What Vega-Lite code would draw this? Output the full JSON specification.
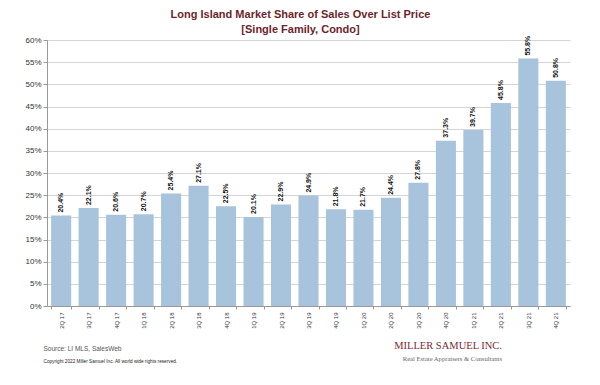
{
  "$schema": "https://vega.github.io/schema/vega-lite/v6.json",
  "background": "white",
  "padding": {"left": 24, "top": 8, "right": 5, "bottom": 5},
  "title": {
    "text": "MILLER SAMUEL INC.",
    "subtitle": "Real Estate Appraisers & Consultants",
    "orient": "bottom",
    "anchor": "end",
    "frame": "group",
    "font": "Liberation Serif",
    "fontSize": 10.5,
    "fontWeight": "normal",
    "color": "#7b2a33",
    "subtitleFont": "Liberation Serif",
    "subtitleFontSize": 6.6,
    "subtitleColor": "#666666",
    "subtitlePadding": 5,
    "dx": -68,
    "offset": -22
  },
  "vconcat": [
    {
      "width": 523,
      "height": 266,
      "title": {
        "text": ["Long Island Market Share of Sales Over List Price", "[Single Family, Condo]"],
        "anchor": "middle",
        "frame": "group",
        "dx": -8,
        "font": "Liberation Sans",
        "fontSize": 11,
        "fontWeight": "bold",
        "color": "#6d1f2b",
        "lineHeight": 15,
        "offset": 1
      },
      "data": {
        "values": [
          {"quarter": "2Q 17", "share": 0.204},
          {"quarter": "3Q 17", "share": 0.221},
          {"quarter": "4Q 17", "share": 0.206},
          {"quarter": "1Q 18", "share": 0.207},
          {"quarter": "2Q 18", "share": 0.254},
          {"quarter": "3Q 18", "share": 0.271},
          {"quarter": "4Q 18", "share": 0.225},
          {"quarter": "1Q 19", "share": 0.201},
          {"quarter": "2Q 19", "share": 0.229},
          {"quarter": "3Q 19", "share": 0.249},
          {"quarter": "4Q 19", "share": 0.218},
          {"quarter": "1Q 20", "share": 0.217},
          {"quarter": "2Q 20", "share": 0.244},
          {"quarter": "3Q 20", "share": 0.278},
          {"quarter": "4Q 20", "share": 0.373},
          {"quarter": "1Q 21", "share": 0.397},
          {"quarter": "2Q 21", "share": 0.458},
          {"quarter": "3Q 21", "share": 0.558},
          {"quarter": "4Q 21", "share": 0.508}
        ]
      },
      "resolve": {"axis": {"y": "independent"}},
      "layer": [
        {
          "mark": {"type": "bar", "color": "#a7c4dc"},
          "encoding": {
            "x": {
              "field": "quarter",
              "type": "nominal",
              "sort": null,
              "scale": {"paddingInner": 0.27, "paddingOuter": 0.15},
              "axis": {
                "title": "Source:  LI MLS, SalesWeb",
                "titleFont": "Liberation Sans",
                "titleFontSize": 6.5,
                "titleFontWeight": "normal",
                "titleColor": "#555555",
                "titleAnchor": "start",
                "titleAlign": "left",
                "titleBaseline": "alphabetic",
                "titleX": -4,
                "titleY": 44,
                "labelAngle": -90,
                "labelFont": "Liberation Sans",
                "labelFontSize": 6,
                "labelColor": "#333333",
                "labelPadding": 3,
                "tickBand": "extent",
                "tickSize": 3,
                "tickColor": "#999999",
                "domainColor": "#999999",
                "grid": false
              }
            },
            "y": {
              "field": "share",
              "type": "quantitative",
              "scale": {"domain": [0, 0.6], "nice": false},
              "axis": {
                "title": null,
                "format": ".0%",
                "values": [0, 0.05, 0.1, 0.15, 0.2, 0.25, 0.3, 0.35, 0.4, 0.45, 0.5, 0.55, 0.6],
                "labelFont": "Liberation Sans",
                "labelFontSize": 8,
                "labelColor": "#333333",
                "labelPadding": 2,
                "tickSize": 4,
                "tickColor": "#999999",
                "domainColor": "#999999",
                "gridColor": "#d4d4d4",
                "gridWidth": 1
              }
            }
          }
        },
        {
          "mark": {
            "type": "text",
            "angle": 270,
            "align": "left",
            "baseline": "middle",
            "dx": 3,
            "font": "Liberation Sans",
            "fontSize": 7,
            "fontWeight": "bold",
            "color": "#111111"
          },
          "encoding": {
            "x": {"field": "quarter", "type": "nominal", "sort": null},
            "y": {
              "field": "share",
              "type": "quantitative",
              "axis": {
                "orient": "right",
                "labels": false,
                "ticks": false,
                "domain": false,
                "grid": false,
                "title": "Copyright 2022 Miller Samuel Inc.  All world wide rights reserved.",
                "titleFont": "Liberation Sans",
                "titleFontSize": 4.7,
                "titleFontWeight": "normal",
                "titleColor": "#222222",
                "titleAngle": 0,
                "titleAlign": "left",
                "titleBaseline": "alphabetic",
                "titleX": -527,
                "titleY": 322
              }
            },
            "text": {"field": "share", "type": "quantitative", "format": ".1%"}
          }
        }
      ]
    }
  ],
  "config": {"view": {"stroke": null}}
}
